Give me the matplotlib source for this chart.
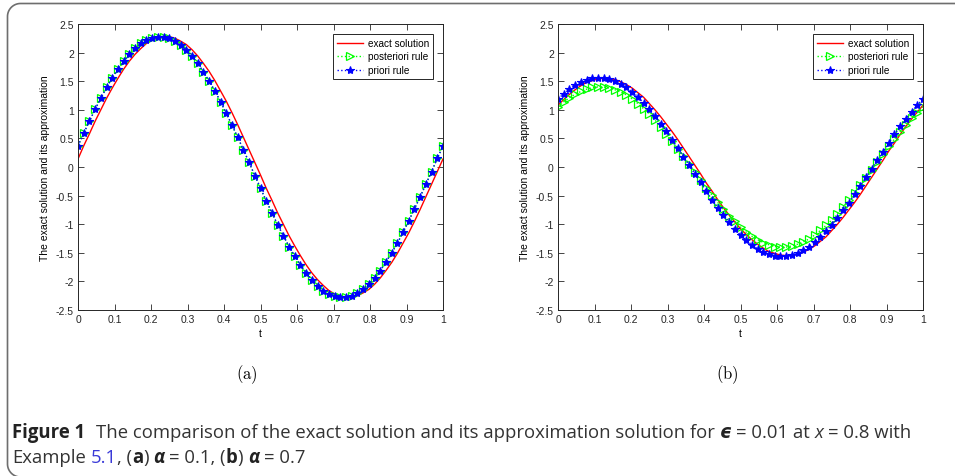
from __future__ import annotations

import matplotlib

matplotlib.use("Agg")
import matplotlib.pyplot as plt
import numpy as np
from matplotlib.lines import Line2D

plt.rcParams["font.family"] = ["Liberation Sans", "DejaVu Sans"]
plt.rcParams["axes.unicode_minus"] = False
plt.rcParams["mathtext.fontset"] = "cm"

# sample points t = i/64
t_vals = np.linspace(0.0, 1.0, 65)

# (a) alpha = 0.1
exact_a = [
    0.14, 0.37, 0.58, 0.80, 1.00, 1.20, 1.38, 1.55, 1.71, 1.85, 1.97, 2.07, 2.16,
    2.22, 2.26, 2.28, 2.28, 2.25, 2.20, 2.14, 2.05, 1.94, 1.81, 1.67, 1.51, 1.33,
    1.15, 0.95, 0.74, 0.52, 0.30, 0.08, -0.14, -0.37, -0.58, -0.80, -1.00, -1.20,
    -1.38, -1.55, -1.71, -1.85, -1.97, -2.07, -2.16, -2.22, -2.26, -2.28, -2.28,
    -2.25, -2.20, -2.14, -2.05, -1.94, -1.81, -1.67, -1.51, -1.33, -1.15, -0.95,
    -0.74, -0.52, -0.30, -0.08, 0.14,
]
posteriori_a = [
    0.37, 0.59, 0.80, 1.01, 1.20, 1.39, 1.56, 1.71, 1.85, 1.97, 2.08, 2.16, 2.22,
    2.26, 2.28, 2.28, 2.25, 2.20, 2.13, 2.05, 1.94, 1.81, 1.66, 1.50, 1.33, 1.14,
    0.94, 0.73, 0.52, 0.30, 0.08, -0.15, -0.37, -0.59, -0.80, -1.01, -1.20, -1.39,
    -1.56, -1.71, -1.85, -1.97, -2.08, -2.16, -2.22, -2.26, -2.28, -2.28, -2.25,
    -2.20, -2.13, -2.05, -1.94, -1.81, -1.66, -1.50, -1.33, -1.14, -0.94, -0.73,
    -0.52, -0.30, -0.08, 0.15, 0.37,
]
priori_a = [
    0.37, 0.59, 0.80, 1.01, 1.20, 1.39, 1.56, 1.71, 1.85, 1.97, 2.08, 2.16, 2.22,
    2.26, 2.28, 2.28, 2.25, 2.20, 2.13, 2.05, 1.94, 1.81, 1.66, 1.50, 1.33, 1.14,
    0.94, 0.73, 0.52, 0.30, 0.08, -0.15, -0.37, -0.59, -0.80, -1.01, -1.20, -1.39,
    -1.56, -1.71, -1.85, -1.97, -2.08, -2.16, -2.22, -2.26, -2.28, -2.28, -2.25,
    -2.20, -2.13, -2.05, -1.94, -1.81, -1.66, -1.50, -1.33, -1.14, -0.94, -0.73,
    -0.52, -0.30, -0.08, 0.15, 0.37,
]

# (b) alpha = 0.7
exact_b = [
    1.08, 1.18, 1.27, 1.35, 1.42, 1.48, 1.51, 1.54, 1.55, 1.54, 1.53, 1.49, 1.44,
    1.38, 1.30, 1.22, 1.11, 1.00, 0.88, 0.75, 0.62, 0.48, 0.33, 0.18, 0.03, -0.12,
    -0.28, -0.42, -0.57, -0.71, -0.84, -0.96, -1.08, -1.18, -1.27, -1.35, -1.42,
    -1.48, -1.51, -1.54, -1.55, -1.54, -1.53, -1.49, -1.44, -1.38, -1.30, -1.22,
    -1.11, -1.00, -0.88, -0.75, -0.62, -0.48, -0.33, -0.18, -0.03, 0.12, 0.28,
    0.42, 0.57, 0.71, 0.84, 0.96, 1.08,
]
posteriori_b = [
    1.05, 1.14, 1.21, 1.27, 1.32, 1.36, 1.39, 1.40, 1.40, 1.38, 1.35, 1.31, 1.26,
    1.19, 1.11, 1.02, 0.93, 0.82, 0.70, 0.58, 0.45, 0.32, 0.19, 0.05, -0.09, -0.22,
    -0.36, -0.49, -0.62, -0.74, -0.85, -0.95, -1.05, -1.14, -1.21, -1.27, -1.32,
    -1.36, -1.39, -1.40, -1.40, -1.38, -1.35, -1.31, -1.26, -1.19, -1.11, -1.02,
    -0.93, -0.82, -0.70, -0.58, -0.45, -0.32, -0.19, -0.05, 0.09, 0.22, 0.36,
    0.49, 0.62, 0.74, 0.85, 0.95, 1.05,
]
priori_b = [
    1.19, 1.28, 1.36, 1.43, 1.48, 1.52, 1.55, 1.56, 1.56, 1.54, 1.50, 1.45, 1.39,
    1.31, 1.23, 1.12, 1.01, 0.89, 0.76, 0.63, 0.48, 0.33, 0.18, 0.03, -0.12, -0.27,
    -0.42, -0.57, -0.71, -0.84, -0.97, -1.08, -1.19, -1.28, -1.36, -1.43, -1.48,
    -1.52, -1.55, -1.56, -1.56, -1.54, -1.50, -1.45, -1.39, -1.31, -1.23, -1.12,
    -1.01, -0.89, -0.76, -0.63, -0.48, -0.33, -0.18, -0.03, 0.12, 0.27, 0.42,
    0.57, 0.71, 0.84, 0.97, 1.08, 1.19,
]

x_ticks = [0, 0.1, 0.2, 0.3, 0.4, 0.5, 0.6, 0.7, 0.8, 0.9, 1]
y_ticks = [-2.5, -2, -1.5, -1, -0.5, 0, 0.5, 1, 1.5, 2, 2.5]
panel_labels = ["(a)", "(b)"]

W, H = 955, 477
fig = plt.figure(figsize=(W / 100, H / 100), dpi=100)

# rounded frame round the figure, in display pixels (y up)
r = 13
left, top, bottom = 7.5, H - 4.5, -1.0
a1 = np.linspace(np.pi / 2, np.pi, 20)
a2 = np.linspace(np.pi, 1.5 * np.pi, 20)
frame_x = np.concatenate([[W + 5], left + r + r * np.cos(a1),
                          left + r + r * np.cos(a2), [W + 5]])
frame_y = np.concatenate([[top], top - r + r * np.sin(a1),
                          bottom + r + r * np.sin(a2), [bottom]])
fig.add_artist(Line2D(frame_x, frame_y, transform=None, color="#6e6e6e",
                      lw=1.2, zorder=0))


def px_rect(left, top, right, bottom):
    return [left / W, 1 - bottom / H, (right - left) / W, (bottom - top) / H]


def draw_panel(ax, exact, posteriori, priori, label, label_x):
    ax.plot(t_vals, exact, color="#ff0000", lw=1.0, label="exact solution")
    ax.plot(t_vals, posteriori, color="#00ff00", ls=":", lw=1.0, marker=">",
            ms=6, mfc="none", mew=0.9, label="posteriori rule")
    ax.plot(t_vals, priori, color="#0000ff", ls=":", lw=1.0, marker="*",
            ms=6, mew=0.8, label="priori rule")

    ax.set_xlim(0, 1)
    ax.set_ylim(-2.5, 2.5)
    ax.set_xticks(x_ticks)
    ax.set_yticks(y_ticks)
    ax.set_xticklabels([f"{v:g}" for v in x_ticks])
    ax.set_yticklabels([f"{v:g}" for v in y_ticks])
    ax.tick_params(direction="in", top=True, right=True, labelsize=7.5,
                   length=4, width=0.6, colors="#262626", pad=3)
    for spine in ax.spines.values():
        spine.set_linewidth(0.7)
        spine.set_color("#262626")

    ax.set_xlabel("t", fontsize=7.5, labelpad=3)
    ax.set_ylabel("The exact solution and its approximation", fontsize=7.5,
                  labelpad=4)

    leg = ax.legend(loc="upper right", fontsize=7.2, fancybox=False,
                    framealpha=1, edgecolor="#262626", handlelength=2.6,
                    borderaxespad=1.0, borderpad=0.4, labelspacing=0.35,
                    handletextpad=0.5)
    leg.get_frame().set_linewidth(0.7)

    fig.text(label_x / W, 1 - 375 / H, rf"$\mathrm{{{label}}}$", fontsize=12,
             ha="center", va="center")


ax_a = fig.add_axes(px_rect(78, 25, 443, 311))
ax_b = fig.add_axes(px_rect(558, 25, 923, 311))
draw_panel(ax_a, exact_a, posteriori_a, priori_a, panel_labels[0], 247)
draw_panel(ax_b, exact_b, posteriori_b, priori_b, panel_labels[1], 727)

# caption, drawn piece by piece
cap_font = ["Open Sans", "DejaVu Sans"]
renderer = fig.canvas.get_renderer()

line1 = [
    ("Figure 1", "bold", "normal", "#222222", 2.2),
    ("The comparison of the exact solution and its approximation solution for",
     "normal", "normal", "#333333", 1),
    ("ϵ", "bold", "italic", "#222222", 1),
    ("= 0.01 at", "normal", "normal", "#333333", 1),
    ("x", "normal", "italic", "#333333", 1),
    ("= 0.8 with", "normal", "normal", "#333333", 0),
]
line2 = [
    ("Example", "normal", "normal", "#333333", 1),
    ("5.1", "normal", "normal", "#3a3ad8", 0),
    (", (", "normal", "normal", "#333333", 0),
    ("a", "bold", "normal", "#222222", 0),
    (")", "normal", "normal", "#333333", 1),
    ("α", "bold", "italic", "#222222", 1),
    ("= 0.1, (", "normal", "normal", "#333333", 0),
    ("b", "bold", "normal", "#222222", 0),
    (")", "normal", "normal", "#333333", 1),
    ("α", "bold", "italic", "#222222", 1),
    ("= 0.7", "normal", "normal", "#333333", 0),
]


def measure_line(pieces, size, space_w):
    total = 0.0
    for text, weight, style, color, gap in pieces:
        txt = fig.text(0, 0, text, fontsize=size, family=cap_font,
                       weight=weight, style=style)
        total += txt.get_window_extent(renderer).width + gap * space_w
        txt.remove()
    return total


def draw_caption_line(pieces, x0, y_base, size, space_w):
    x = x0
    for text, weight, style, color, gap in pieces:
        txt = fig.text(x / W, 1 - y_base / H, text, fontsize=size,
                       family=cap_font, weight=weight, style=style,
                       color=color, ha="left", va="baseline")
        x += txt.get_window_extent(renderer).width + gap * space_w


# pick the caption size so the first line ends where it does in the figure
size = 11.0
size = size * (915 - 12) / measure_line(line1, size, size * 0.36)
draw_caption_line(line1, 12, 438, size, size * 0.36)
draw_caption_line(line2, 12, 463, size, size * 0.36)

fig.savefig("out.png", dpi=100)
